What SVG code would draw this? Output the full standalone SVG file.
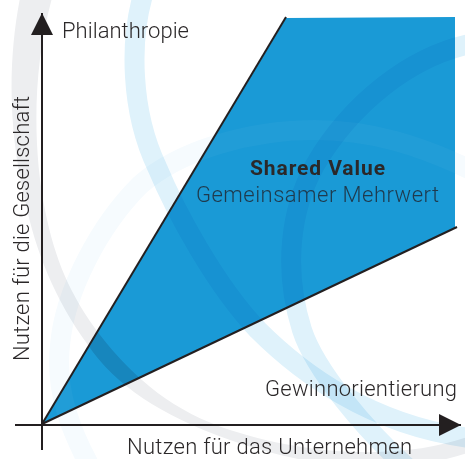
<svg xmlns="http://www.w3.org/2000/svg" width="465" height="459" viewBox="0 0 465 459">
<style>
.blend{mix-blend-mode:multiply}
.blue{fill:none;stroke-width:20;stroke:#dff2fb}
.gray{fill:#edeef0}
.pale{stroke:#f6fbfe;stroke-width:20;fill:none}
.ln{fill:none;stroke:#231f20;stroke-width:2}
text{font-family:"Roboto","Liberation Sans",sans-serif;font-weight:300;font-size:22px;fill:#2b2829}
</style>
<defs>
<marker id="arrow" markerUnits="userSpaceOnUse" markerWidth="24" markerHeight="22" refX="22" refY="11" orient="auto"><path d="M0 0L22 11L0 22Z" fill="#231f20"/></marker>
<clipPath id="area"><path d="M42 424L286 18L455 17L455 228Z"/></clipPath>
<path id="grayband" d="M20 -2C8 60 8 130 25 200C35 250 55 300 88 345C115 385 160 415 230 440C300 465 390 480 470 452L470 436C420 455 330 462 230 430C175 412 135 380 100 335C70 295 55 260 45 210C33 150 32 70 52 -2Z"/>
<path id="paleband" d="M92 470C70 430 55 390 60 345C65 290 100 225 140 185C180 150 250 130 315 130C370 130 420 145 475 172"/>
</defs>
<rect width="465" height="459" fill="#fff"/>
<use href="#paleband" class="pale"/>
<g id="value-area"><path d="M42 424L286 18L455 17L455 228Z" fill="#1a9ad6"/></g>
<g clip-path="url(#area)"><use href="#paleband" fill="none" stroke="#fff" stroke-opacity=".03" stroke-width="20"/></g>
<use href="#grayband" class="gray blend"/>
<g clip-path="url(#area)" class="blend"><use href="#grayband" fill="#e9edf0"/></g>
<path class="blue blend" d="M143 -5C130 40 130 110 157 167C175 210 215 285 258 330C300 372 370 425 470 438"/>
<path class="blue blend" d="M475 43C410 55 350 105 315 165C290 210 283 270 302 330C315 370 365 430 410 470"/>
<g id="axes" class="connectors">
<path class="ln" d="M15 425L461 425" marker-end="url(#arrow)"/>
<path class="ln" d="M42 450L42 13" marker-end="url(#arrow)"/>
<path class="ln" d="M42 424L286 17"/>
<path class="ln" d="M42 424L457 227"/>
</g>
<g id="label-philanthropie"><text x="62" y="38" textLength="127">Philanthropie</text></g>
<g id="label-y"><text transform="translate(29 361) rotate(-90)" textLength="265">Nutzen für die Gesellschaft</text></g>
<g id="label-gewinn"><text x="265" y="396" textLength="192">Gewinnorientierung</text></g>
<g id="label-x"><text x="127" y="454" textLength="285">Nutzen für das Unternehmen</text></g>
<g id="label-shared">
<text x="250" y="175" textLength="135" style="font-weight:700;font-size:21px">Shared Value</text>
<text x="196" y="202" textLength="243" style="fill:#1f3a4d">Gemeinsamer Mehrwert</text>
</g>
</svg>
